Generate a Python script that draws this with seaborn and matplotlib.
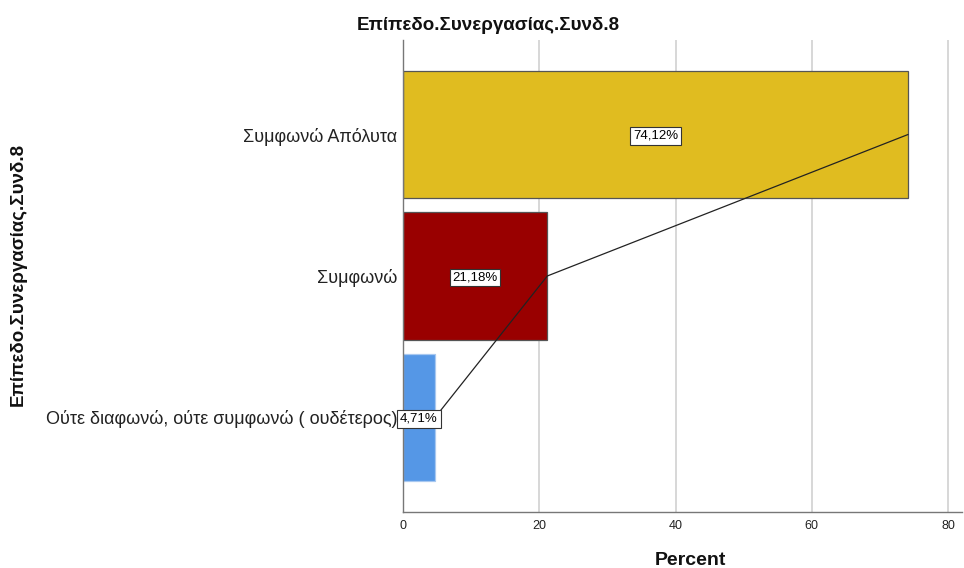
import matplotlib
matplotlib.use("Agg")
import matplotlib.pyplot as plt
import seaborn as sns
import pandas as pd

categories = ["Συμφωνώ Απόλυτα", "Συμφωνώ", "Ούτε διαφωνώ, ούτε συμφωνώ ( ουδέτερος)"]
percents = [74.12, 21.18, 4.71]
bar_colors = ["#E0BC20", "#990000", "#5597E6"]
x_ticks = [0, 20, 40, 60, 80]
title = "Επίπεδο.Συνεργασίας.Συνδ.8"
x_label = "Percent"

sns.set_theme(style="white")
plt.rcParams["font.family"] = ["Liberation Sans", "DejaVu Sans"]

df = pd.DataFrame({"category": categories, "percent": percents})

fig = plt.figure(figsize=(9.64, 5.68), dpi=100)
ax = fig.add_axes([0.418, 0.0986, 0.580, 0.831])

sns.barplot(data=df, x="percent", y="category", hue="category",
            palette=bar_colors, saturation=1, orient="h", width=0.9,
            legend=False, ax=ax, zorder=2)

edge_cols = ["#555555", "#555555", "#A8C8F0"]
for patch, ec in zip(ax.patches, edge_cols):
    patch.set_edgecolor(ec)
    patch.set_linewidth(0.9)

# connecting line through bar ends
ax.plot(percents, range(len(percents)), color="#222222", lw=0.9, zorder=3)

# value labels at bar centres
for i, v in enumerate(percents):
    ax.text(v / 2, i + 0.01, f"{v:.2f}%".replace(".", ","), ha="center", va="center",
            fontsize=9.5, color="black", zorder=4,
            bbox=dict(boxstyle="square,pad=0.2", fc="white", ec="#333333", lw=0.8))

ax.set_xlim(0, 82.05)
ax.set_ylim(2.668, -0.668)
ax.set_xticks(x_ticks)
ax.set_xticklabels([str(t) for t in x_ticks], fontsize=9, color="#222222")
ax.tick_params(axis="y", labelsize=13, colors="#222222", length=0, pad=4)
ax.tick_params(axis="x", length=0, pad=6)
ax.grid(axis="x", color="#D4D4D4", lw=1.3, zorder=0)
ax.set_axisbelow(True)

for s in ["top", "right"]:
    ax.spines[s].set_visible(False)
for s in ["left", "bottom"]:
    ax.spines[s].set_color("#777777")
    ax.spines[s].set_linewidth(1.0)

ax.set_ylabel("")
ax.set_xlabel("")
fig.text(0.716, 0.014, x_label, ha="center", va="center", fontsize=14, fontweight="bold",
         color="#111111")
fig.text(0.019, 0.516, title, ha="center", va="center", rotation=90, fontsize=13.5,
         fontweight="bold", color="#111111")
fig.text(0.507, 0.955, title, ha="center", va="center", fontsize=13.5, fontweight="bold",
         color="#111111")

fig.savefig("out.png", dpi=100, facecolor="white")
